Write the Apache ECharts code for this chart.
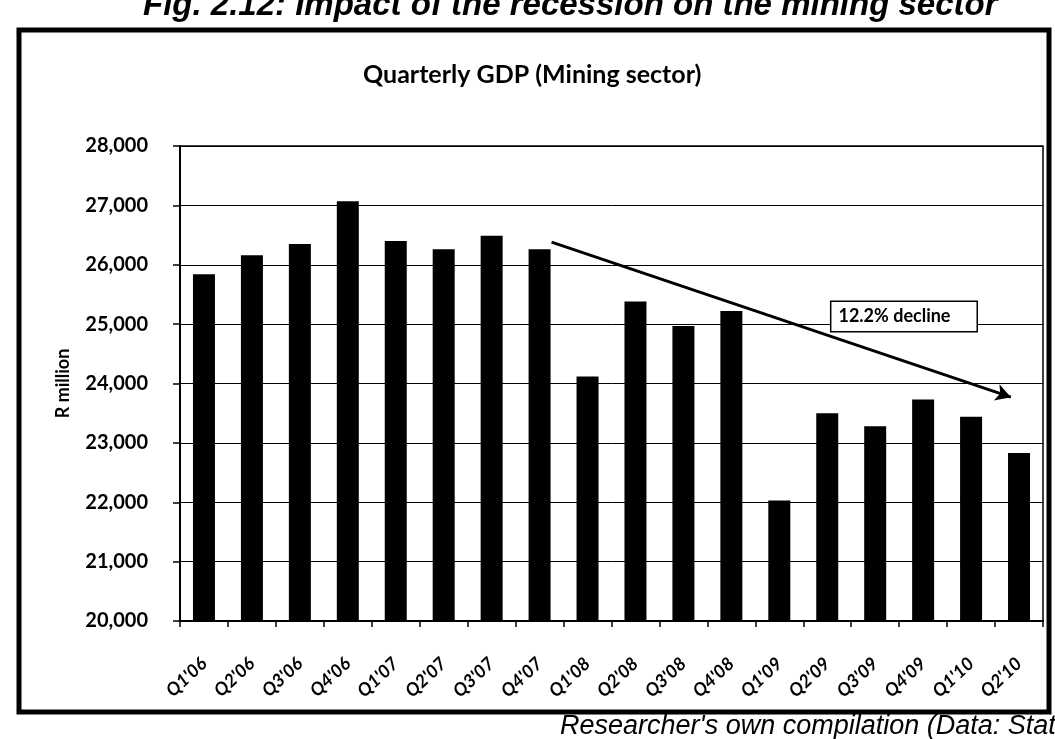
<!DOCTYPE html>
<html>
<head>
<meta charset="utf-8">
<script src="https://cdn.jsdelivr.net/npm/echarts@6/dist/echarts.min.js"></script>
<style>
html,body{margin:0;padding:0;background:#fff;}
#chart{width:1055px;height:739px;}
</style>
</head>
<body>
<div id="chart"></div>
<script>
const categories = ["Q1'06","Q2'06","Q3'06","Q4'06","Q1'07","Q2'07","Q3'07","Q4'07","Q1'08","Q2'08","Q3'08","Q4'08","Q1'09","Q2'09","Q3'09","Q4'09","Q1'10","Q2'10"];
const gdpValues = [25840,26160,26350,27070,26400,26260,26490,26260,24120,25380,24970,25220,22030,23500,23280,23730,23440,22830];
const yMin = 20000, yMax = 28000, yStep = 1000;
const trendStart = [7.75, 26380];
const trendEnd = [17.33, 23770];
const noteText = '12.2% decline';
const notePos = [15.1, 25130];
const figTitle = 'Fig. 2.12: Impact of the recession on the mining sector';
const chartTitle = 'Quarterly GDP (Mining sector)';
const yName = 'R million';
const sourceText = "Researcher's own compilation (Data: Stats SA)";

const chart = echarts.init(document.getElementById('chart'), null, {renderer:'canvas'});
chart.setOption({
  animation:false,
  backgroundColor:'#fff',
  title:{text:chartTitle,left:358,top:57,textStyle:{fontFamily:'Lato',fontWeight:'bold',fontSize:25,color:'#000'}},
  grid:{left:180,right:12,top:146,bottom:118,show:true,borderColor:'#000',borderWidth:1.5,backgroundColor:'transparent'},
  xAxis:[{
    type:'category',data:categories,boundaryGap:true,
    axisLine:{lineStyle:{color:'#000',width:2}},
    axisTick:{show:true,alignWithLabel:false,length:6,lineStyle:{color:'#000',width:1.5}},
    axisLabel:{rotate:43,margin:40,interval:0,fontFamily:'Lato',fontStyle:'italic',fontWeight:'bold',fontSize:18,color:'#000'}
  },{
    type:'value',min:0,max:18,show:false
  }],
  yAxis:{
    type:'value',min:yMin,max:yMax,interval:yStep,
    name:yName,nameLocation:'middle',nameGap:108,
    nameTextStyle:{fontFamily:'Lato',fontWeight:'bold',fontSize:18,color:'#000'},
    axisLine:{show:true,lineStyle:{color:'#000',width:2}},
    axisTick:{show:true,length:7,lineStyle:{color:'#000',width:1.5}},
    splitLine:{show:true,lineStyle:{color:'#000',width:1}},
    axisLabel:{margin:32,fontFamily:'Lato',fontWeight:'bold',fontSize:20,color:'#000',
      formatter:v=>v.toLocaleString('en-US')}
  },
  series:[{
    type:'bar',data:gdpValues,barWidth:22,itemStyle:{color:'#000'},xAxisIndex:0
  },{
    type:'line',xAxisIndex:1,data:[trendStart,trendEnd],showSymbol:false,
    lineStyle:{opacity:0},
    markLine:{silent:true,symbol:['none','arrow'],symbolSize:[13,15],
      lineStyle:{color:'#000',width:3,type:'solid'},label:{show:false},
      data:[[{coord:trendStart},{coord:trendEnd}]]}
  },{
    type:'scatter',xAxisIndex:1,data:[notePos],symbolSize:0,itemStyle:{color:'#000',opacity:1},z:5,silent:true,
    emphasis:{disabled:true},
    label:{show:true,position:'inside',formatter:noteText,fontFamily:'Lato',fontWeight:'bold',fontSize:18,color:'#000',opacity:1,
      backgroundColor:'#fff',borderColor:'#000',borderWidth:1.5,padding:[6,26,5,7]}
  }],
  graphic:[
    {type:'rect',shape:{x:19,y:30,width:1030,height:682},style:{fill:'none',stroke:'#000',lineWidth:5},z:100},
    {type:'text',left:143,top:-11,style:{text:figTitle,fontFamily:'Liberation Sans',fontStyle:'italic',fontWeight:'bold',fontSize:33,fill:'#000'},z:101},
    {type:'text',left:560,top:713,style:{text:sourceText,fontFamily:'Liberation Sans',fontStyle:'italic',fontSize:27,fill:'#000'},z:101}
  ]
});
</script>
</body>
</html>
